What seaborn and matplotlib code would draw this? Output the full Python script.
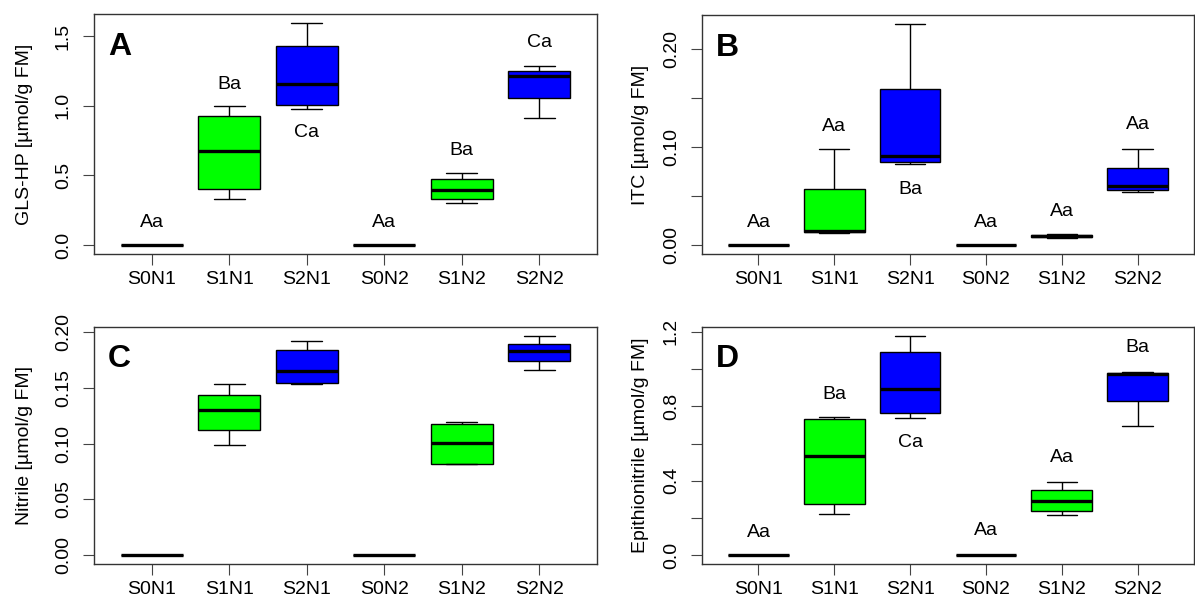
import numpy as np
import pandas as pd
import matplotlib.pyplot as plt
import seaborn as sns

sns.set_style('ticks', {'text.color': 'black', 'axes.labelcolor': 'black',
                        'xtick.color': 'black', 'ytick.color': 'black'})
plt.rcParams['font.family'] = ['Liberation Sans', 'DejaVu Sans']

groups = ['S0N1', 'S1N1', 'S2N1', 'S0N2', 'S1N2', 'S2N2']
box_colors = ['white', '#00ff00', '#0000ff', 'white', '#00ff00', '#0000ff']

# five values per group: low whisker, q1, median, q3, high whisker
gls_hp = [[0, 0, 0, 0, 0],
          [0.330, 0.402, 0.674, 0.927, 0.999],
          [0.980, 1.006, 1.156, 1.428, 1.596],
          [0, 0, 0, 0, 0],
          [0.306, 0.330, 0.397, 0.477, 0.518],
          [0.915, 1.059, 1.216, 1.250, 1.288]]
itc = [[0, 0, 0, 0, 0],
       [0.0120, 0.0130, 0.0145, 0.0574, 0.0985],
       [0.0825, 0.0849, 0.0913, 0.1590, 0.2258],
       [0, 0, 0, 0, 0],
       [0.0078, 0.0081, 0.0092, 0.0102, 0.0112],
       [0.0540, 0.0567, 0.0601, 0.0788, 0.0985]]
nitrile = [[0, 0, 0, 0, 0],
           [0.0991, 0.1121, 0.1299, 0.1435, 0.1538],
           [0.1538, 0.1547, 0.1654, 0.1837, 0.1923],
           [0, 0, 0, 0, 0],
           [0.0814, 0.0822, 0.1006, 0.1178, 0.1195],
           [0.1660, 0.1743, 0.1831, 0.1896, 0.1967]]
epithio = [[0, 0, 0, 0, 0],
           [0.220, 0.277, 0.531, 0.733, 0.742],
           [0.739, 0.762, 0.893, 1.090, 1.179],
           [0, 0, 0, 0, 0],
           [0.215, 0.240, 0.289, 0.352, 0.392],
           [0.692, 0.831, 0.972, 0.980, 0.987]]

gls_letters = ['Aa', 'Ba', 'Ca', 'Aa', 'Ba', 'Ca']
gls_letter_y = [0.161, 1.151, 0.811, 0.161, 0.681, 1.457]
itc_letters = ['Aa', 'Aa', 'Ba', 'Aa', 'Aa', 'Aa']
itc_letter_y = [0.0234, 0.1212, 0.0567, 0.0234, 0.0343, 0.1226]
epi_letters = ['Aa', 'Ba', 'Ca', 'Aa', 'Aa', 'Ba']
epi_letter_y = [0.124, 0.863, 0.604, 0.135, 0.525, 1.115]

W, H = 1195, 603
fig = plt.figure(figsize=(W / 100, H / 100), dpi=100)


def px_axes(x0, y0, x1, y1):
    return fig.add_axes([x0 / W, 1 - y1 / H, (x1 - x0) / W, (y1 - y0) / H])


def panel(ax, values, ylabel, tag, ticks, ticklabels, label_x, letters=None, letter_y=None):
    df = pd.DataFrame({'group': np.repeat(groups, 5), 'value': np.ravel(values)})
    sns.boxplot(data=df, x='group', y='value', hue='group', order=groups, hue_order=groups,
                palette=dict(zip(groups, box_colors)), saturation=1, width=0.8,
                whis=(0, 100), linecolor='black', linewidth=1.0, showfliers=False,
                legend=False, ax=ax, medianprops=dict(linewidth=2.4, color='black'))
    top = np.max(values)
    ax.set_ylim(-0.04 * top, top * 1.04)
    ax.set_xlim(-0.745, 5.745)
    ax.set_yticks(ticks)
    ax.set_yticklabels(ticklabels, rotation=90, va='center')
    ax.set_xlabel('')
    ax.set_ylabel(ylabel, fontsize=14, va='center', color='black')
    ax.yaxis.set_label_coords(label_x, 0.5)
    ax.tick_params(axis='both', length=8, width=0.8, color='#444444', labelcolor='black',
                   labelsize=14, direction='out')
    ax.tick_params(axis='y', pad=8)
    ax.tick_params(axis='x', pad=4)
    for s in ax.spines.values():
        s.set_visible(True)
        s.set_color('#333333')
        s.set_linewidth(1.0)
    ax.text(0.028, 0.83, tag, transform=ax.transAxes, fontsize=23, fontweight='bold',
            color='black')
    if letters:
        for i, (t, y) in enumerate(zip(letters, letter_y)):
            ax.text(i, y, t, ha='center', va='center', fontsize=14, color='black')


ax_a = px_axes(94, 14, 597, 254)
ax_b = px_axes(702, 15, 1194, 254)
ax_c = px_axes(94, 327, 597, 564)
ax_d = px_axes(702, 327, 1194, 564)

panel(ax_a, gls_hp, 'GLS-HP [µmol/g FM]', 'A', [0, 0.5, 1.0, 1.5],
      ['0.0', '0.5', '1.0', '1.5'], -0.139, gls_letters, gls_letter_y)
panel(ax_b, itc, 'ITC [µmol/g FM]', 'B', [0, 0.05, 0.10, 0.15, 0.20],
      ['0.00', '', '0.10', '', '0.20'], -0.126, itc_letters, itc_letter_y)
panel(ax_c, nitrile, 'Nitrile [µmol/g FM]', 'C', [0, 0.05, 0.10, 0.15, 0.20],
      ['0.00', '0.05', '0.10', '0.15', '0.20'], -0.139)
panel(ax_d, epithio, 'Epithionitrile [µmol/g FM]', 'D', [0, 0.2, 0.4, 0.6, 0.8, 1.0, 1.2],
      ['0.0', '', '0.4', '', '0.8', '', '1.2'], -0.126, epi_letters, epi_letter_y)

fig.savefig('out.png', dpi=100)
